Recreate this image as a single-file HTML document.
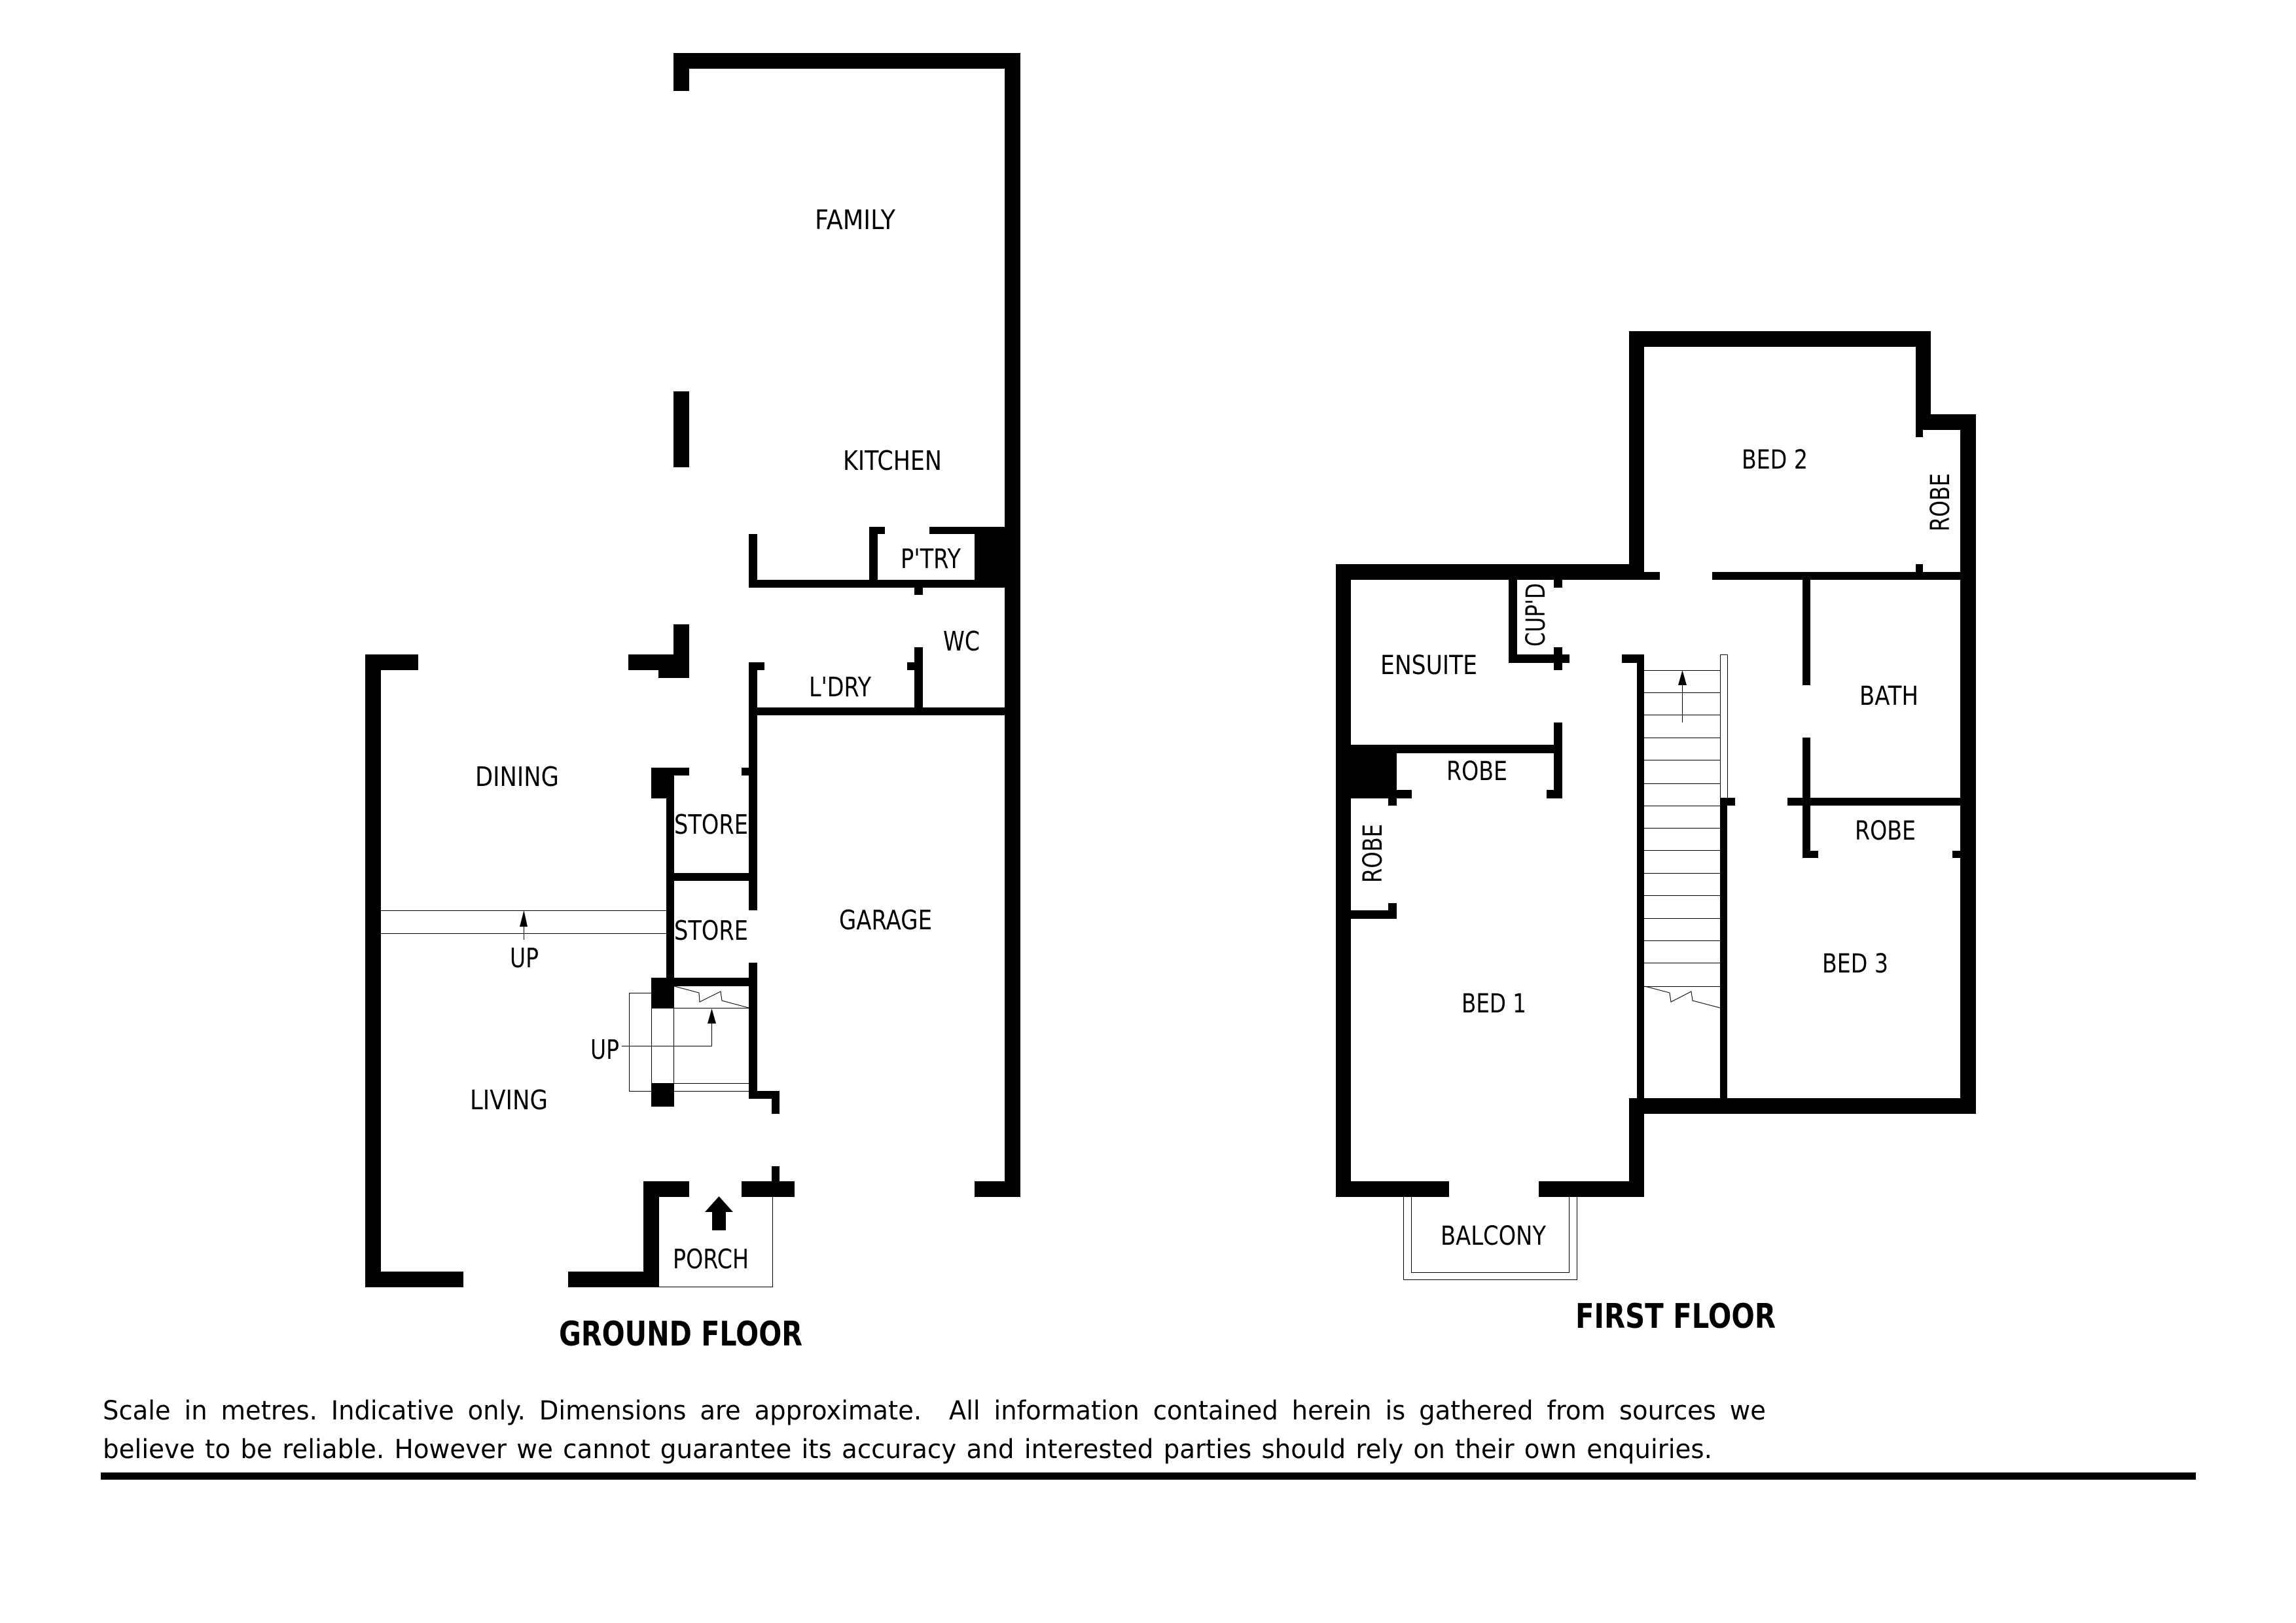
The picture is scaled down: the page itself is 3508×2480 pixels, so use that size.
<!DOCTYPE html>
<html><head><meta charset="utf-8"><title>Floor plan</title>
<style>html,body{margin:0;padding:0;background:#fff}svg{display:block}
text{font-family:"DejaVu Sans","Liberation Sans",sans-serif;font-size:41px;fill:#000;white-space:pre}
.s{font-size:40px}.b{font-weight:bold;font-size:52px}.f{font-size:40px}</style></head>
<body>
<svg xmlns="http://www.w3.org/2000/svg" width="3508" height="2480" viewBox="0 0 3508 2480">
<rect width="3508" height="2480" fill="#fff"/>
<g fill="#000" shape-rendering="crispEdges">
<!-- ground floor walls -->
<rect x="1029" y="81" width="530" height="24"/>
<rect x="1029" y="81" width="24" height="58"/>
<rect x="1535" y="81" width="24" height="1748"/>
<rect x="1029" y="598" width="24" height="116"/>
<rect x="1029" y="954" width="24" height="82"/>
<rect x="960" y="1000" width="69" height="24"/>
<rect x="1006" y="1024" width="47" height="12"/>
<rect x="558" y="1000" width="81" height="24"/>
<rect x="558" y="1000" width="24" height="967"/>
<rect x="558" y="1943" width="150" height="24"/>
<rect x="868" y="1943" width="139" height="24"/>
<rect x="983" y="1805" width="24" height="162"/>
<rect x="983" y="1805" width="70" height="24"/>
<rect x="1133" y="1805" width="81" height="24"/>
<rect x="1179" y="1782" width="12" height="23"/>
<rect x="1489" y="1805" width="70" height="24"/>
<rect x="1144" y="816" width="13" height="82"/>
<rect x="1144" y="886" width="391" height="12"/>
<rect x="1328" y="805" width="13" height="93"/>
<rect x="1328" y="805" width="24" height="11"/>
<rect x="1420" y="805" width="115" height="11"/>
<rect x="1489" y="805" width="70" height="93"/>
<rect x="1397" y="898" width="13" height="11"/>
<rect x="1397" y="989" width="13" height="104"/>
<rect x="1386" y="1012" width="11" height="12"/>
<rect x="1144" y="1012" width="13" height="379"/>
<rect x="1157" y="1012" width="11" height="12"/>
<rect x="1144" y="1081" width="391" height="12"/>
<rect x="1133" y="1173" width="11" height="12"/>
<rect x="1018" y="1173" width="12" height="334"/>
<rect x="995" y="1173" width="35" height="47"/>
<rect x="1030" y="1173" width="23" height="12"/>
<rect x="1030" y="1334" width="114" height="12"/>
<rect x="995" y="1494" width="149" height="13"/>
<rect x="995" y="1494" width="35" height="47"/>
<rect x="995" y="1655" width="35" height="36"/>
<rect x="1144" y="1471" width="13" height="208"/>
<rect x="1144" y="1667" width="47" height="12"/>
<rect x="1179" y="1667" width="12" height="35"/>
<!-- first floor walls -->
<rect x="2489" y="506" width="461" height="24"/>
<rect x="2489" y="506" width="23" height="380"/>
<rect x="2927" y="506" width="23" height="151"/>
<rect x="2927" y="633" width="92" height="24"/>
<rect x="2927" y="657" width="11" height="11"/>
<rect x="2995" y="633" width="24" height="1069"/>
<rect x="2041" y="862" width="471" height="24"/>
<rect x="2512" y="874" width="24" height="12"/>
<rect x="2616" y="874" width="379" height="12"/>
<rect x="2927" y="862" width="11" height="12"/>
<rect x="2041" y="862" width="23" height="967"/>
<rect x="2305" y="886" width="13" height="127"/>
<rect x="2305" y="1000" width="93" height="13"/>
<rect x="2374" y="886" width="13" height="12"/>
<rect x="2374" y="989" width="13" height="35"/>
<rect x="2501" y="1000" width="11" height="678"/>
<rect x="2478" y="1000" width="34" height="13"/>
<rect x="2628" y="1219" width="11" height="459"/>
<rect x="2628" y="1219" width="23" height="12"/>
<rect x="2754" y="886" width="12" height="161"/>
<rect x="2754" y="1127" width="12" height="184"/>
<rect x="2754" y="1300" width="24" height="11"/>
<rect x="2731" y="1219" width="264" height="12"/>
<rect x="2983" y="1300" width="12" height="11"/>
<rect x="2064" y="1138" width="323" height="13"/>
<rect x="2374" y="1104" width="13" height="116"/>
<rect x="2363" y="1207" width="11" height="13"/>
<rect x="2041" y="1138" width="93" height="82"/>
<rect x="2134" y="1207" width="23" height="13"/>
<rect x="2121" y="1220" width="13" height="11"/>
<rect x="2064" y="1391" width="70" height="13"/>
<rect x="2121" y="1380" width="13" height="24"/>
<rect x="2489" y="1678" width="530" height="24"/>
<rect x="2489" y="1678" width="23" height="151"/>
<rect x="2041" y="1805" width="173" height="24"/>
<rect x="2351" y="1805" width="161" height="24"/>
<rect x="154" y="2250" width="3201" height="11"/>
</g>
<!-- thin lines -->
<g fill="none" stroke="#000" stroke-width="1" shape-rendering="crispEdges">
<path d="M582 1391.5H1019M582 1426.5H1019"/>
<path d="M800.5 1416V1436"/>
<path d="M995.5 1541V1655M1029.5 1541V1655M995 1540.5H1144M1030 1655.5H1144"/>
<path d="M995 1517.5H961.5V1667.5H995M1030 1667.5H1144"/>
<path d="M950 1598.5H1087.5V1560"/>
<path d="M1007 1966.5H1180.5V1829"/>
<path d="M2144.5 1829V1955.5H2409.5V1829M2156.5 1829V1944.5H2397.5V1829"/>
<path d="M2628.5 1000.5H2639.5V1219M2628.5 1000V1219"/>
<path d="M2512 1024.5H2628M2512 1058.5H2628M2512 1092.5H2628M2512 1127.5H2628M2512 1161.5H2628M2512 1197.5H2628M2512 1231.5H2628M2512 1265.5H2628M2512 1299.5H2628M2512 1334.5H2628M2512 1368.5H2628M2512 1403.5H2628M2512 1437.5H2628M2512 1471.5H2628M2512 1507.5H2628"/>
<path d="M2570.5 1040V1104"/>
</g>
<g fill="none" stroke="#000" stroke-width="1">
<path d="M1030 1507L1068 1517L1069 1531L1101 1515L1103 1529L1144 1540"/>
<path d="M2513 1507L2551 1517L2553 1531L2584 1515L2586 1529L2628 1540"/>
</g>
<!-- arrowheads -->
<g fill="#000">
<path d="M800.5 1391L806 1416H794Z"/>
<path d="M1087.5 1541L1094 1564H1081Z"/>
<path d="M2570.5 1024L2577 1047H2564Z"/>
<path d="M1098.5 1828L1120 1852H1109V1880H1088V1852H1077Z"/>
</g>
<!-- labels -->
<text x="1245" y="350" textLength="123" lengthAdjust="spacingAndGlyphs">FAMILY</text>
<text x="1288" y="718" textLength="151" lengthAdjust="spacingAndGlyphs">KITCHEN</text>
<text x="1376" y="868" textLength="92" lengthAdjust="spacingAndGlyphs">P'TRY</text>
<text x="1441" y="994" textLength="56" lengthAdjust="spacingAndGlyphs">WC</text>
<text x="1236" y="1064" textLength="95" lengthAdjust="spacingAndGlyphs">L'DRY</text>
<text x="726" y="1201" textLength="128" lengthAdjust="spacingAndGlyphs">DINING</text>
<text x="1030" y="1274" textLength="113" lengthAdjust="spacingAndGlyphs">STORE</text>
<text x="1030" y="1436" textLength="113" lengthAdjust="spacingAndGlyphs">STORE</text>
<text x="1282" y="1420" textLength="142" lengthAdjust="spacingAndGlyphs">GARAGE</text>
<text x="779" y="1478" textLength="44" lengthAdjust="spacingAndGlyphs">UP</text>
<text x="902" y="1618" textLength="44" lengthAdjust="spacingAndGlyphs">UP</text>
<text x="718" y="1695" textLength="119" lengthAdjust="spacingAndGlyphs">LIVING</text>
<text x="1028" y="1938" textLength="116" lengthAdjust="spacingAndGlyphs">PORCH</text>
<text class="b" x="854" y="2056" textLength="372" lengthAdjust="spacingAndGlyphs">GROUND FLOOR</text>
<text class="s" x="2661" y="716" textLength="101" lengthAdjust="spacingAndGlyphs">BED 2</text>
<text class="s" transform="translate(2978,812) rotate(-90)" textLength="89" lengthAdjust="spacingAndGlyphs">ROBE</text>
<text class="s" transform="translate(2360,988) rotate(-90)" textLength="97" lengthAdjust="spacingAndGlyphs">CUP'D</text>
<text class="s" x="2109" y="1030" textLength="148" lengthAdjust="spacingAndGlyphs">ENSUITE</text>
<text class="s" x="2841" y="1077" textLength="90" lengthAdjust="spacingAndGlyphs">BATH</text>
<text class="s" x="2210" y="1192" textLength="93" lengthAdjust="spacingAndGlyphs">ROBE</text>
<text class="s" x="2834" y="1283" textLength="93" lengthAdjust="spacingAndGlyphs">ROBE</text>
<text class="s" transform="translate(2111,1349) rotate(-90)" textLength="90" lengthAdjust="spacingAndGlyphs">ROBE</text>
<text class="s" x="2784" y="1486" textLength="101" lengthAdjust="spacingAndGlyphs">BED 3</text>
<text class="s" x="2233" y="1547" textLength="99" lengthAdjust="spacingAndGlyphs">BED 1</text>
<text class="s" x="2201" y="1902" textLength="161" lengthAdjust="spacingAndGlyphs">BALCONY</text>
<text class="b" x="2407" y="2029" textLength="306" lengthAdjust="spacingAndGlyphs">FIRST FLOOR</text>
<text class="f" x="157" y="2169" word-spacing="9" textLength="2541" lengthAdjust="spacingAndGlyphs">Scale in metres. Indicative only. Dimensions are approximate.  All information contained herein is gathered from sources we</text>
<text class="f" x="157" y="2228" word-spacing="3" textLength="2459" lengthAdjust="spacingAndGlyphs">believe to be reliable. However we cannot guarantee its accuracy and interested parties should rely on their own enquiries.</text>
</svg>
</body></html>
